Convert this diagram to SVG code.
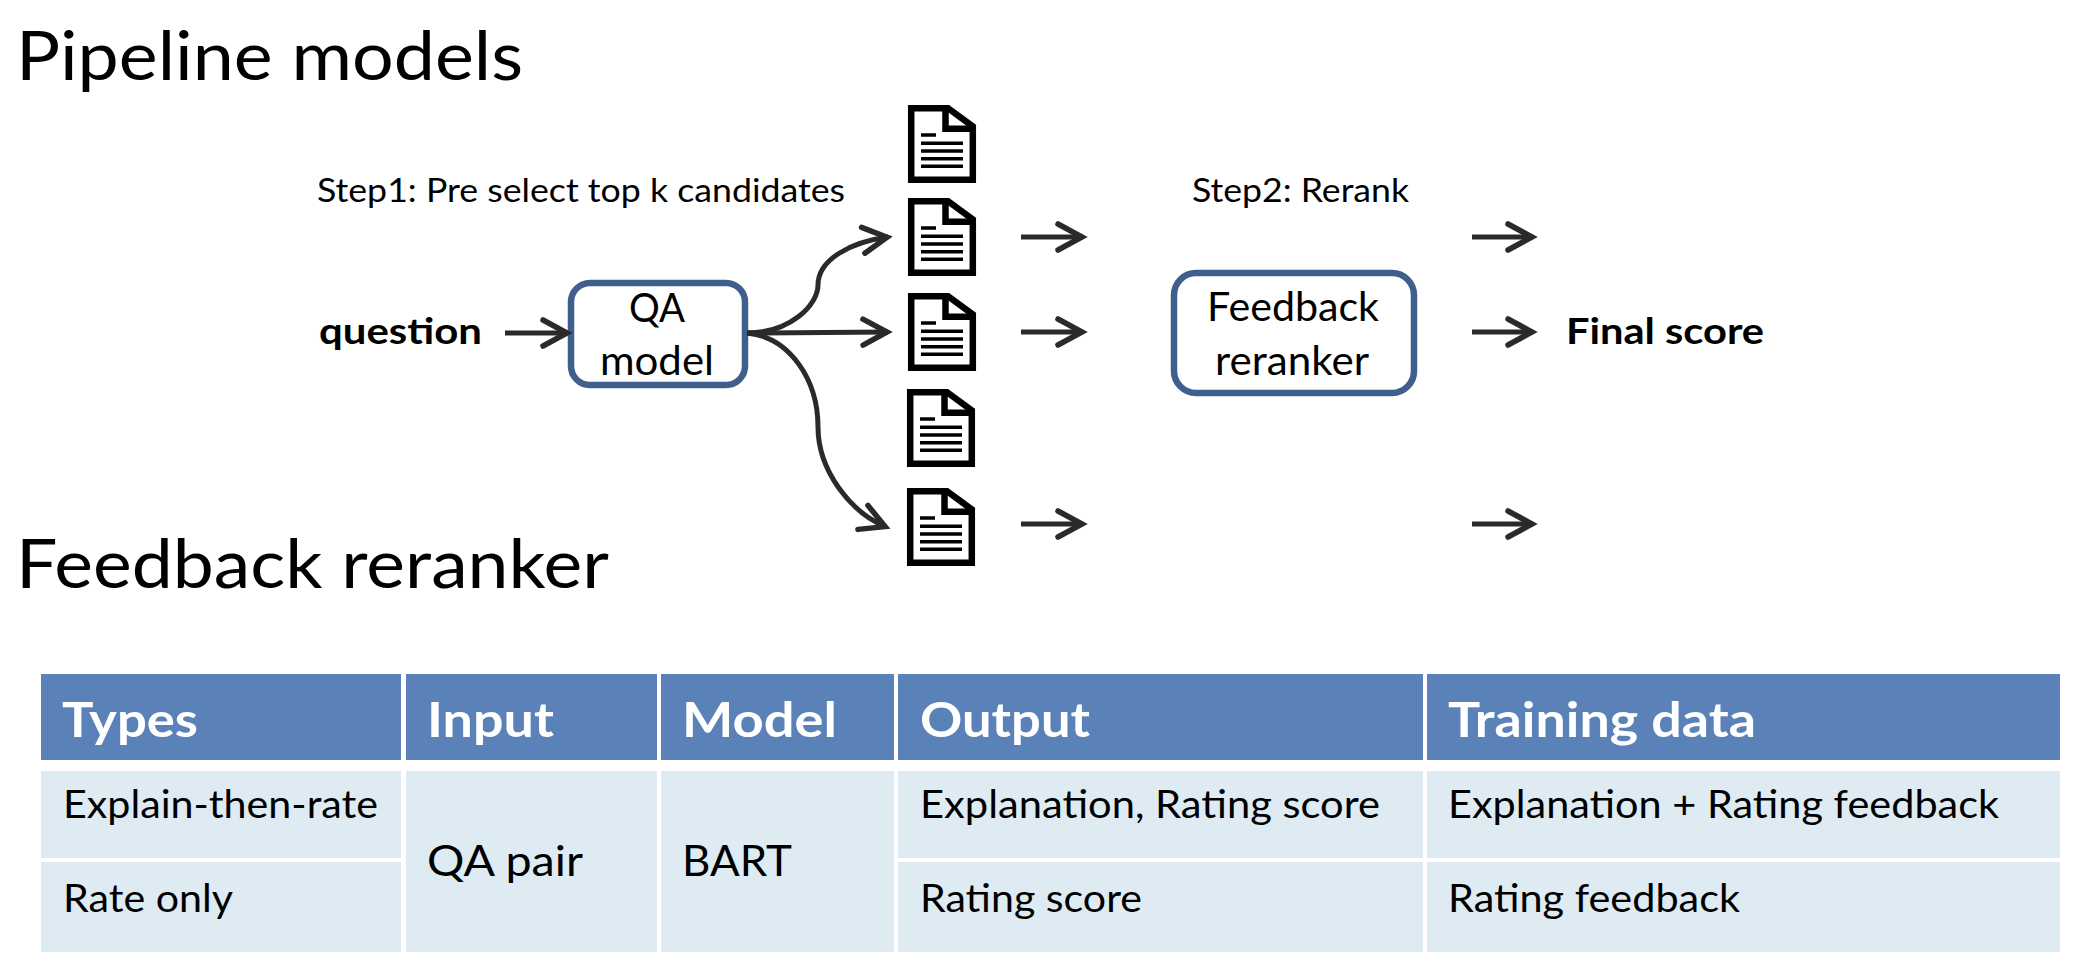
<svg xmlns="http://www.w3.org/2000/svg" xmlns:xlink="http://www.w3.org/1999/xlink" width="2080" height="968" viewBox="0 0 2080 968">
<style>
text{font-family:Lato,"Noto Sans",sans-serif;fill:#000}
.title{font-size:68px}
.step{font-size:32px}
.strong{font-size:37px;font-weight:700}
.box{font-size:41px}
.hd{font-size:48px;font-weight:700;fill:#fff}
.td{font-size:38px}
.tdl{font-size:43px}
.mid{text-anchor:middle}
.node{fill:#fff;stroke:#3f5f8d;stroke-width:6.5}
.hc{fill:#5a81b8}
.bc{fill:#deebf3}
.cn{fill:none;stroke:#2a2a2a;stroke-width:5;marker-end:url(#ah)}
.o{fill:#fff;stroke:#000;stroke-width:6.5}
.f{fill:none;stroke:#000;stroke-width:6.5}
.l{stroke:#000;stroke-width:3.6}
</style>
<defs>
<marker id="ah" markerUnits="userSpaceOnUse" markerWidth="40" markerHeight="40" viewBox="-32 -20 40 40" refX="0" refY="0" orient="auto">
<path d="M-25-13L-1 0L-25 13" fill="none" stroke="#2a2a2a" stroke-width="5.5" stroke-linecap="round" stroke-linejoin="miter"/>
</marker>
<g id="doc">
<path class="o" d="M3.2 3.2H40L64.8 21.5V74.8H3.2Z"/>
<path class="f" d="M37.5 3V23.7H66"/>
<path class="l" d="M13 30H28M13 38.3H55M13 46H55M13 53.7H55M13 61.3H55"/>
</g>
</defs>
<rect width="2080" height="968" fill="#fff"/>
<text class="title" x="16" y="80" textLength="507" lengthAdjust="spacingAndGlyphs">Pipeline models</text>
<text class="title" x="16" y="588" textLength="593" lengthAdjust="spacingAndGlyphs">Feedback reranker</text>
<text class="step" x="317" y="202" textLength="528" lengthAdjust="spacingAndGlyphs">Step1: Pre select top k candidates</text>
<text class="step" x="1192" y="202" textLength="217" lengthAdjust="spacingAndGlyphs">Step2: Rerank</text>
<text id="question" class="strong" x="319" y="344" textLength="163" lengthAdjust="spacingAndGlyphs">question</text>
<text id="final-score" class="strong" x="1566" y="344" textLength="198" lengthAdjust="spacingAndGlyphs">Final score</text>
<g id="qa-model">
<rect class="node" x="571" y="283" width="174" height="102" rx="19"/>
<text class="box mid" x="657" y="322" textLength="56" lengthAdjust="spacingAndGlyphs">QA</text>
<text class="box mid" x="657" y="375" textLength="114" lengthAdjust="spacingAndGlyphs">model</text>
</g>
<g id="feedback-reranker">
<rect class="node" x="1174" y="273" width="240" height="120" rx="22"/>
<text class="box mid" x="1293" y="321" textLength="172" lengthAdjust="spacingAndGlyphs">Feedback</text>
<text class="box mid" x="1292" y="375" textLength="154" lengthAdjust="spacingAndGlyphs">reranker</text>
</g>
<g id="doc-1"><use xlink:href="#doc" href="#doc" x="908" y="105"/></g>
<g id="doc-2"><use xlink:href="#doc" href="#doc" x="908" y="198"/></g>
<g id="doc-3"><use xlink:href="#doc" href="#doc" x="908" y="293"/></g>
<g id="doc-4"><use xlink:href="#doc" href="#doc" x="907" y="389"/></g>
<g id="doc-5"><use xlink:href="#doc" href="#doc" x="907" y="488"/></g>
<g id="connectors">
<path class="cn" d="M505 333H568"/>
<path class="cn" d="M747 333C790 333 818 305 818 285C818 260 850 242 888 237"/>
<path class="cn" d="M747 333L888 332"/>
<path class="cn" d="M747 333C790 337 818 380 818 427C818 470 850 512 886 527"/>
<path class="cn" d="M1021 237H1083"/>
<path class="cn" d="M1021 332H1083"/>
<path class="cn" d="M1021 524H1083"/>
<path class="cn" d="M1472 237H1533"/>
<path class="cn" d="M1472 332H1533"/>
<path class="cn" d="M1472 524H1533"/>
</g>
<g id="table">
<rect class="hc" x="41" y="674" width="360" height="86"/>
<rect class="hc" x="406" y="674" width="251" height="86"/>
<rect class="hc" x="661" y="674" width="233" height="86"/>
<rect class="hc" x="898" y="674" width="525" height="86"/>
<rect class="hc" x="1427" y="674" width="633" height="86"/>
<rect class="bc" x="41" y="771" width="360" height="87"/>
<rect class="bc" x="41" y="862" width="360" height="90"/>
<rect class="bc" x="406" y="771" width="251" height="181"/>
<rect class="bc" x="661" y="771" width="233" height="181"/>
<rect class="bc" x="898" y="771" width="525" height="87"/>
<rect class="bc" x="898" y="862" width="525" height="90"/>
<rect class="bc" x="1427" y="771" width="633" height="87"/>
<rect class="bc" x="1427" y="862" width="633" height="90"/>
<text class="hd" x="62" y="737" textLength="136" lengthAdjust="spacingAndGlyphs">Types</text>
<text class="hd" x="427" y="737" textLength="127" lengthAdjust="spacingAndGlyphs">Input</text>
<text class="hd" x="682" y="737" textLength="155" lengthAdjust="spacingAndGlyphs">Model</text>
<text class="hd" x="920" y="737" textLength="170" lengthAdjust="spacingAndGlyphs">Output</text>
<text class="hd" x="1448" y="737" textLength="308" lengthAdjust="spacingAndGlyphs">Training data</text>
<text class="td" x="63" y="818" textLength="315" lengthAdjust="spacingAndGlyphs">Explain-then-rate</text>
<text class="td" x="63" y="912" textLength="170" lengthAdjust="spacingAndGlyphs">Rate only</text>
<text class="tdl" x="427" y="876" textLength="156" lengthAdjust="spacingAndGlyphs">QA pair</text>
<text class="tdl" x="682" y="876" textLength="110" lengthAdjust="spacingAndGlyphs">BART</text>
<text class="td" x="920" y="818" textLength="460" lengthAdjust="spacingAndGlyphs">Explanation, Rating score</text>
<text class="td" x="920" y="912" textLength="222" lengthAdjust="spacingAndGlyphs">Rating score</text>
<text class="td" x="1448" y="818" textLength="551" lengthAdjust="spacingAndGlyphs">Explanation + Rating feedback</text>
<text class="td" x="1448" y="912" textLength="292" lengthAdjust="spacingAndGlyphs">Rating feedback</text>
</g>
</svg>
